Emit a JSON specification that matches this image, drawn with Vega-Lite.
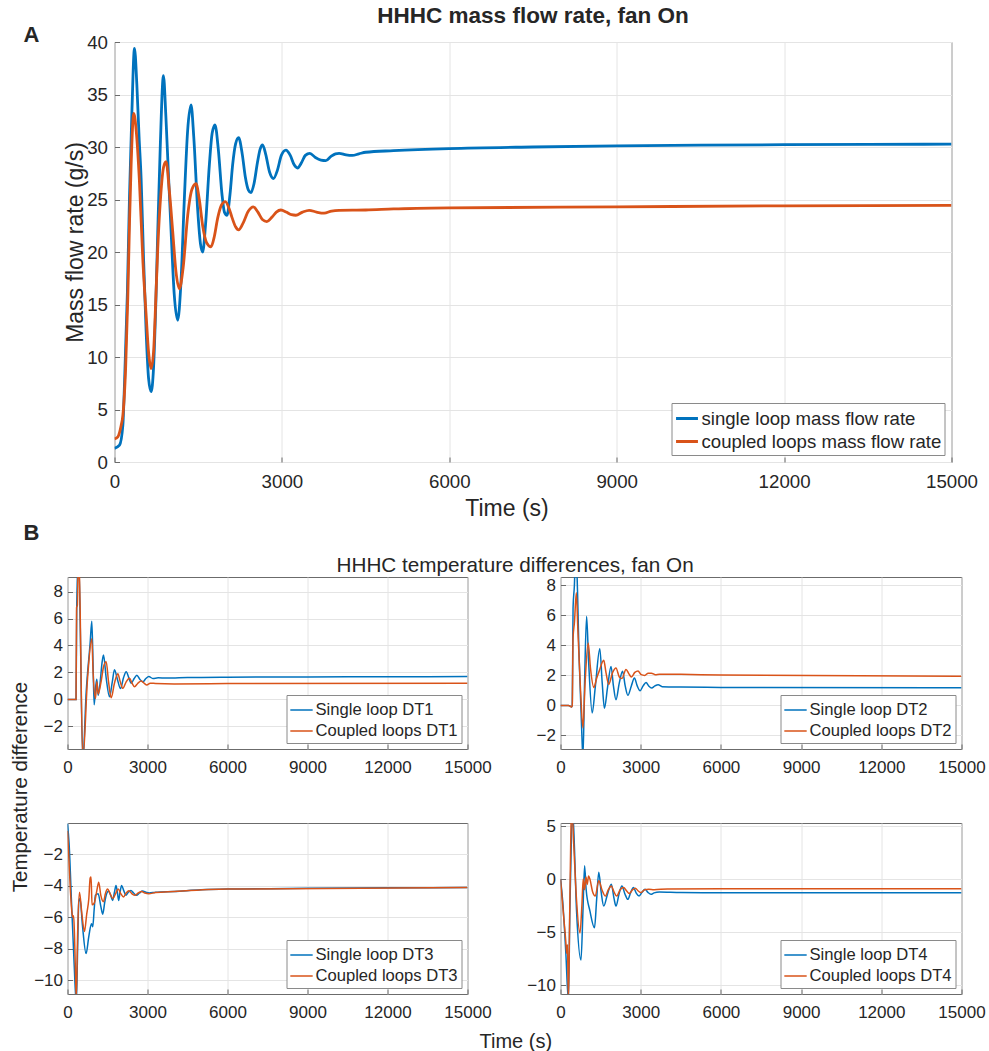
{
  "$schema": "https://vega.github.io/schema/vega-lite/v6.json",
  "background": "white",
  "padding": {"left": 9.5, "top": 4, "right": 10, "bottom": 5},
  "config": {
    "font": "Liberation Sans",
    "view": {"stroke": "#6b6b6b", "strokeWidth": 1},
    "axis": {"grid": true, "gridColor": "#e4e4e4", "gridWidth": 1, "domain": false, "ticks": true, "tickColor": "#6b6b6b", "tickSize": -5, "labelColor": "#262626", "titleColor": "#262626", "titleFontWeight": "normal", "labelFlush": false, "labelOverlap": false, "labelBound": false},
    "legend": {"orient": "bottom-right", "symbolType": "stroke", "strokeColor": "#8a8a8a", "fillColor": "white", "padding": 3, "rowPadding": 0, "labelOffset": 2, "labelColor": "#262626", "labelLimit": 600},
    "title": {"color": "#262626"}
  },
  "datasets": {
    "A": [
      {"s":"S","t":0,"v":1.3},{"s":"S","t":90,"v":1.6},{"s":"S","t":150,"v":3.5},{"s":"S","t":180,"v":7.6},{"s":"S","t":230,"v":16},{"s":"S","t":268,"v":25.1},{"s":"S","t":310,"v":33},{"s":"S","t":358,"v":39.4},{"s":"S","t":400,"v":36},{"s":"S","t":440,"v":31},{"s":"S","t":477,"v":27},{"s":"S","t":520,"v":19.5},{"s":"S","t":567,"v":12.4},{"s":"S","t":610,"v":8},{"s":"S","t":656,"v":6.7},{"s":"S","t":700,"v":9},{"s":"S","t":740,"v":15},{"s":"S","t":775,"v":21.9},{"s":"S","t":820,"v":30},{"s":"S","t":877,"v":36.8},{"s":"S","t":920,"v":33},{"s":"S","t":970,"v":27},{"s":"S","t":1014,"v":22},{"s":"S","t":1070,"v":16},{"s":"S","t":1133,"v":13.5},{"s":"S","t":1190,"v":17},{"s":"S","t":1252,"v":25.1},{"s":"S","t":1310,"v":31.5},{"s":"S","t":1372,"v":34.0},{"s":"S","t":1420,"v":31},{"s":"S","t":1491,"v":24},{"s":"S","t":1540,"v":20.8},{"s":"S","t":1580,"v":20.0},{"s":"S","t":1630,"v":22.5},{"s":"S","t":1700,"v":28.3},{"s":"S","t":1750,"v":31.3},{"s":"S","t":1801,"v":32.1},{"s":"S","t":1860,"v":29.8},{"s":"S","t":1926,"v":25.5},{"s":"S","t":1970,"v":23.8},{"s":"S","t":2016,"v":23.5},{"s":"S","t":2070,"v":25.5},{"s":"S","t":2117,"v":28.3},{"s":"S","t":2170,"v":30.3},{"s":"S","t":2224,"v":30.9},{"s":"S","t":2290,"v":29.3},{"s":"S","t":2343,"v":27.2},{"s":"S","t":2400,"v":25.9},{"s":"S","t":2445,"v":25.65},{"s":"S","t":2500,"v":26.5},{"s":"S","t":2564,"v":28.6},{"s":"S","t":2610,"v":29.8},{"s":"S","t":2654,"v":30.2},{"s":"S","t":2710,"v":29.3},{"s":"S","t":2780,"v":27.6},{"s":"S","t":2850,"v":27.0},{"s":"S","t":2920,"v":27.8},{"s":"S","t":2990,"v":29.2},{"s":"S","t":3071,"v":29.7},{"s":"S","t":3150,"v":29.2},{"s":"S","t":3220,"v":28.3},{"s":"S","t":3280,"v":28.0},{"s":"S","t":3350,"v":28.5},{"s":"S","t":3420,"v":29.2},{"s":"S","t":3501,"v":29.4},{"s":"S","t":3600,"v":29.0},{"s":"S","t":3700,"v":28.75},{"s":"S","t":3787,"v":28.7},{"s":"S","t":3880,"v":29.1},{"s":"S","t":3960,"v":29.35},{"s":"S","t":4025,"v":29.4},{"s":"S","t":4150,"v":29.25},{"s":"S","t":4263,"v":29.2},{"s":"S","t":4380,"v":29.35},{"s":"S","t":4502,"v":29.5},{"s":"S","t":5000,"v":29.65},{"s":"S","t":6000,"v":29.85},{"s":"S","t":7500,"v":30.0},{"s":"S","t":9000,"v":30.1},{"s":"S","t":10500,"v":30.17},{"s":"S","t":12000,"v":30.22},{"s":"S","t":13500,"v":30.25},{"s":"S","t":15000,"v":30.27},
      {"s":"C","t":0,"v":2.2},{"s":"C","t":60,"v":2.4},{"s":"C","t":120,"v":3.5},{"s":"C","t":149,"v":4.4},{"s":"C","t":200,"v":9},{"s":"C","t":238,"v":15.6},{"s":"C","t":270,"v":23},{"s":"C","t":298,"v":28.3},{"s":"C","t":346,"v":33.2},{"s":"C","t":390,"v":31.5},{"s":"C","t":447,"v":26.7},{"s":"C","t":510,"v":19},{"s":"C","t":567,"v":14.0},{"s":"C","t":610,"v":10.5},{"s":"C","t":656,"v":8.9},{"s":"C","t":700,"v":10.5},{"s":"C","t":740,"v":15.5},{"s":"C","t":775,"v":20.3},{"s":"C","t":830,"v":25.5},{"s":"C","t":880,"v":28.1},{"s":"C","t":924,"v":28.6},{"s":"C","t":980,"v":26},{"s":"C","t":1044,"v":21.9},{"s":"C","t":1100,"v":18.2},{"s":"C","t":1163,"v":16.5},{"s":"C","t":1230,"v":18.5},{"s":"C","t":1312,"v":23.5},{"s":"C","t":1390,"v":26.0},{"s":"C","t":1461,"v":26.5},{"s":"C","t":1520,"v":25},{"s":"C","t":1580,"v":22.5},{"s":"C","t":1650,"v":20.9},{"s":"C","t":1729,"v":20.5},{"s":"C","t":1790,"v":21.5},{"s":"C","t":1848,"v":23.2},{"s":"C","t":1920,"v":24.5},{"s":"C","t":1986,"v":24.8},{"s":"C","t":2050,"v":24.2},{"s":"C","t":2105,"v":23.3},{"s":"C","t":2170,"v":22.4},{"s":"C","t":2224,"v":22.1},{"s":"C","t":2300,"v":22.7},{"s":"C","t":2400,"v":23.9},{"s":"C","t":2487,"v":24.3},{"s":"C","t":2570,"v":23.8},{"s":"C","t":2650,"v":23.1},{"s":"C","t":2731,"v":22.9},{"s":"C","t":2820,"v":23.3},{"s":"C","t":2900,"v":23.8},{"s":"C","t":2982,"v":24.0},{"s":"C","t":3080,"v":23.8},{"s":"C","t":3170,"v":23.55},{"s":"C","t":3250,"v":23.5},{"s":"C","t":3370,"v":23.8},{"s":"C","t":3489,"v":23.97},{"s":"C","t":3620,"v":23.8},{"s":"C","t":3757,"v":23.7},{"s":"C","t":3890,"v":23.9},{"s":"C","t":4025,"v":23.97},{"s":"C","t":4502,"v":24.0},{"s":"C","t":5000,"v":24.1},{"s":"C","t":6000,"v":24.2},{"s":"C","t":9000,"v":24.3},{"s":"C","t":12000,"v":24.4},{"s":"C","t":15000,"v":24.45}
    ],
    "B1": [
      {"s":"S","t":0,"v":0},{"s":"S","t":320,"v":0},{"s":"S","t":345,"v":6.5},{"s":"S","t":380,"v":9.5},{"s":"S","t":400,"v":10},{"s":"S","t":440,"v":9},{"s":"S","t":575,"v":-4.5},{"s":"S","t":700,"v":0.5},{"s":"S","t":850,"v":4.2},{"s":"S","t":912,"v":5.8},{"s":"S","t":960,"v":2.5},{"s":"S","t":1000,"v":-0.4},{"s":"S","t":1060,"v":1.0},{"s":"S","t":1100,"v":1.5},{"s":"S","t":1150,"v":0.3},{"s":"S","t":1220,"v":1.2},{"s":"S","t":1300,"v":2.8},{"s":"S","t":1350,"v":3.3},{"s":"S","t":1450,"v":1.6},{"s":"S","t":1575,"v":0.2},{"s":"S","t":1680,"v":1.3},{"s":"S","t":1762,"v":2.2},{"s":"S","t":1870,"v":1.5},{"s":"S","t":1990,"v":0.8},{"s":"S","t":2100,"v":1.6},{"s":"S","t":2200,"v":2.06},{"s":"S","t":2300,"v":1.6},{"s":"S","t":2390,"v":1.2},{"s":"S","t":2500,"v":1.55},{"s":"S","t":2600,"v":1.8},{"s":"S","t":2710,"v":1.5},{"s":"S","t":2825,"v":1.3},{"s":"S","t":2940,"v":1.55},{"s":"S","t":3050,"v":1.7},{"s":"S","t":3200,"v":1.55},{"s":"S","t":3400,"v":1.6},{"s":"S","t":3700,"v":1.58},{"s":"S","t":4500,"v":1.62},{"s":"S","t":6000,"v":1.65},{"s":"S","t":9000,"v":1.67},{"s":"S","t":12000,"v":1.68},{"s":"S","t":15000,"v":1.69},
      {"s":"C","t":0,"v":0},{"s":"C","t":320,"v":0},{"s":"C","t":340,"v":6.8},{"s":"C","t":370,"v":7},{"s":"C","t":400,"v":10},{"s":"C","t":440,"v":9.5},{"s":"C","t":575,"v":-4.5},{"s":"C","t":750,"v":1.5},{"s":"C","t":912,"v":4.5},{"s":"C","t":960,"v":2.0},{"s":"C","t":1050,"v":0.07},{"s":"C","t":1100,"v":1.3},{"s":"C","t":1150,"v":0.4},{"s":"C","t":1250,"v":1.2},{"s":"C","t":1350,"v":2.4},{"s":"C","t":1450,"v":2.8},{"s":"C","t":1540,"v":1.3},{"s":"C","t":1637,"v":0.12},{"s":"C","t":1760,"v":1.2},{"s":"C","t":1887,"v":1.9},{"s":"C","t":1980,"v":1.3},{"s":"C","t":2075,"v":0.82},{"s":"C","t":2200,"v":1.3},{"s":"C","t":2325,"v":1.56},{"s":"C","t":2420,"v":1.2},{"s":"C","t":2512,"v":0.94},{"s":"C","t":2640,"v":1.2},{"s":"C","t":2762,"v":1.36},{"s":"C","t":2870,"v":1.2},{"s":"C","t":2975,"v":1.07},{"s":"C","t":3100,"v":1.2},{"s":"C","t":3300,"v":1.18},{"s":"C","t":4000,"v":1.15},{"s":"C","t":6000,"v":1.17},{"s":"C","t":15000,"v":1.19}
    ],
    "B2": [
      {"s":"S","t":0,"v":0},{"s":"S","t":300,"v":0},{"s":"S","t":420,"v":-0.1},{"s":"S","t":440,"v":0},{"s":"S","t":470,"v":6.5},{"s":"S","t":520,"v":8},{"s":"S","t":560,"v":10},{"s":"S","t":600,"v":9.5},{"s":"S","t":700,"v":3},{"s":"S","t":800,"v":-2},{"s":"S","t":840,"v":-3.5},{"s":"S","t":900,"v":1.5},{"s":"S","t":976,"v":5.93},{"s":"S","t":1050,"v":3},{"s":"S","t":1186,"v":-0.5},{"s":"S","t":1300,"v":1.2},{"s":"S","t":1470,"v":3.78},{"s":"S","t":1560,"v":1.5},{"s":"S","t":1643,"v":-0.18},{"s":"S","t":1760,"v":1.2},{"s":"S","t":1890,"v":2.6},{"s":"S","t":1980,"v":1.3},{"s":"S","t":2075,"v":0.38},{"s":"S","t":2200,"v":1.5},{"s":"S","t":2322,"v":2.27},{"s":"S","t":2420,"v":1.3},{"s":"S","t":2520,"v":0.67},{"s":"S","t":2650,"v":1.3},{"s":"S","t":2766,"v":1.82},{"s":"S","t":2870,"v":1.3},{"s":"S","t":2977,"v":0.98},{"s":"S","t":3090,"v":1.3},{"s":"S","t":3200,"v":1.53},{"s":"S","t":3300,"v":1.3},{"s":"S","t":3410,"v":1.16},{"s":"S","t":3530,"v":1.3},{"s":"S","t":3655,"v":1.38},{"s":"S","t":3800,"v":1.25},{"s":"S","t":4500,"v":1.22},{"s":"S","t":6000,"v":1.2},{"s":"S","t":15000,"v":1.17},
      {"s":"C","t":0,"v":0},{"s":"C","t":300,"v":0},{"s":"C","t":420,"v":-0.1},{"s":"C","t":440,"v":0},{"s":"C","t":470,"v":4.5},{"s":"C","t":520,"v":5.5},{"s":"C","t":593,"v":7.5},{"s":"C","t":650,"v":5},{"s":"C","t":750,"v":1},{"s":"C","t":840,"v":-1.5},{"s":"C","t":920,"v":1.5},{"s":"C","t":1037,"v":4.16},{"s":"C","t":1120,"v":2.5},{"s":"C","t":1247,"v":1.2},{"s":"C","t":1350,"v":1.8},{"s":"C","t":1450,"v":2.3},{"s":"C","t":1618,"v":3.0},{"s":"C","t":1700,"v":2.2},{"s":"C","t":1803,"v":1.4},{"s":"C","t":1950,"v":2.2},{"s":"C","t":2075,"v":2.5},{"s":"C","t":2200,"v":1.9},{"s":"C","t":2300,"v":1.8},{"s":"C","t":2450,"v":2.4},{"s":"C","t":2560,"v":2.1},{"s":"C","t":2650,"v":1.9},{"s":"C","t":2780,"v":2.2},{"s":"C","t":2900,"v":2.3},{"s":"C","t":3020,"v":2.05},{"s":"C","t":3150,"v":2.0},{"s":"C","t":3280,"v":2.15},{"s":"C","t":3400,"v":2.15},{"s":"C","t":3550,"v":2.05},{"s":"C","t":3700,"v":2.08},{"s":"C","t":4500,"v":2.07},{"s":"C","t":6000,"v":2.03},{"s":"C","t":15000,"v":1.95}
    ],
    "B3": [
      {"s":"S","t":0,"v":-0.05},{"s":"S","t":60,"v":-1.3},{"s":"S","t":150,"v":-5},{"s":"S","t":250,"v":-9},{"s":"S","t":330,"v":-11.5},{"s":"S","t":380,"v":-8},{"s":"S","t":423,"v":-5.0},{"s":"S","t":470,"v":-4.8},{"s":"S","t":560,"v":-6.5},{"s":"S","t":697,"v":-8.3},{"s":"S","t":800,"v":-7.2},{"s":"S","t":900,"v":-6.4},{"s":"S","t":946,"v":-6.6},{"s":"S","t":1000,"v":-5.5},{"s":"S","t":1046,"v":-4.6},{"s":"S","t":1150,"v":-4.5},{"s":"S","t":1250,"v":-5.3},{"s":"S","t":1320,"v":-5.8},{"s":"S","t":1400,"v":-5.0},{"s":"S","t":1450,"v":-4.6},{"s":"S","t":1544,"v":-4.33},{"s":"S","t":1620,"v":-4.6},{"s":"S","t":1693,"v":-4.92},{"s":"S","t":1760,"v":-4.4},{"s":"S","t":1818,"v":-3.97},{"s":"S","t":1870,"v":-4.4},{"s":"S","t":1917,"v":-4.92},{"s":"S","t":1970,"v":-4.4},{"s":"S","t":2030,"v":-3.97},{"s":"S","t":2110,"v":-4.3},{"s":"S","t":2190,"v":-4.6},{"s":"S","t":2280,"v":-4.4},{"s":"S","t":2378,"v":-4.29},{"s":"S","t":2480,"v":-4.45},{"s":"S","t":2590,"v":-4.6},{"s":"S","t":2700,"v":-4.45},{"s":"S","t":2814,"v":-4.33},{"s":"S","t":2940,"v":-4.4},{"s":"S","t":3063,"v":-4.45},{"s":"S","t":3300,"v":-4.4},{"s":"S","t":4000,"v":-4.35},{"s":"S","t":5000,"v":-4.25},{"s":"S","t":6000,"v":-4.2},{"s":"S","t":9000,"v":-4.15},{"s":"S","t":12000,"v":-4.12},{"s":"S","t":15000,"v":-4.1},
      {"s":"C","t":0,"v":-0.5},{"s":"C","t":40,"v":-1.8},{"s":"C","t":100,"v":-4},{"s":"C","t":174,"v":-5.8},{"s":"C","t":200,"v":-6},{"s":"C","t":230,"v":-5.9},{"s":"C","t":260,"v":-7},{"s":"C","t":300,"v":-9.6},{"s":"C","t":330,"v":-11.2},{"s":"C","t":380,"v":-7},{"s":"C","t":448,"v":-4.4},{"s":"C","t":540,"v":-5.8},{"s":"C","t":635,"v":-6.9},{"s":"C","t":720,"v":-5.8},{"s":"C","t":800,"v":-4.8},{"s":"C","t":850,"v":-3.5},{"s":"C","t":884,"v":-3.44},{"s":"C","t":920,"v":-5.2},{"s":"C","t":1000,"v":-5.1},{"s":"C","t":1100,"v":-4.3},{"s":"C","t":1170,"v":-3.76},{"s":"C","t":1250,"v":-4.6},{"s":"C","t":1350,"v":-5.0},{"s":"C","t":1420,"v":-4.5},{"s":"C","t":1500,"v":-4.2},{"s":"C","t":1600,"v":-4.5},{"s":"C","t":1700,"v":-4.8},{"s":"C","t":1800,"v":-4.5},{"s":"C","t":1900,"v":-4.2},{"s":"C","t":2000,"v":-4.5},{"s":"C","t":2100,"v":-4.7},{"s":"C","t":2200,"v":-4.45},{"s":"C","t":2300,"v":-4.3},{"s":"C","t":2420,"v":-4.5},{"s":"C","t":2530,"v":-4.6},{"s":"C","t":2650,"v":-4.45},{"s":"C","t":2780,"v":-4.35},{"s":"C","t":2900,"v":-4.45},{"s":"C","t":3050,"v":-4.5},{"s":"C","t":3300,"v":-4.42},{"s":"C","t":4000,"v":-4.35},{"s":"C","t":6000,"v":-4.2},{"s":"C","t":15000,"v":-4.1}
    ],
    "B4": [
      {"s":"S","t":0,"v":0},{"s":"S","t":80,"v":-2},{"s":"S","t":200,"v":-7},{"s":"S","t":296,"v":-11.5},{"s":"S","t":350,"v":-3},{"s":"S","t":400,"v":3},{"s":"S","t":445,"v":6},{"s":"S","t":480,"v":5.4},{"s":"S","t":600,"v":-3},{"s":"S","t":766,"v":-7.64},{"s":"S","t":840,"v":-3},{"s":"S","t":901,"v":1.27},{"s":"S","t":960,"v":-1.0},{"s":"S","t":1100,"v":-3},{"s":"S","t":1272,"v":-4.6},{"s":"S","t":1350,"v":-2},{"s":"S","t":1432,"v":0.64},{"s":"S","t":1520,"v":-1.2},{"s":"S","t":1618,"v":-2.55},{"s":"S","t":1760,"v":-1.4},{"s":"S","t":1900,"v":-0.48},{"s":"S","t":2000,"v":-1.8},{"s":"S","t":2075,"v":-2.55},{"s":"S","t":2190,"v":-1.4},{"s":"S","t":2297,"v":-0.64},{"s":"S","t":2410,"v":-1.4},{"s":"S","t":2520,"v":-1.91},{"s":"S","t":2620,"v":-1.3},{"s":"S","t":2729,"v":-0.8},{"s":"S","t":2830,"v":-1.3},{"s":"S","t":2940,"v":-1.6},{"s":"S","t":3050,"v":-1.25},{"s":"S","t":3162,"v":-0.96},{"s":"S","t":3270,"v":-1.25},{"s":"S","t":3384,"v":-1.43},{"s":"S","t":3500,"v":-1.3},{"s":"S","t":3700,"v":-1.22},{"s":"S","t":4500,"v":-1.27},{"s":"S","t":6000,"v":-1.28},{"s":"S","t":15000,"v":-1.28},
      {"s":"C","t":0,"v":0},{"s":"C","t":100,"v":-3},{"s":"C","t":198,"v":-5.9},{"s":"C","t":230,"v":-7},{"s":"C","t":260,"v":-6.2},{"s":"C","t":296,"v":-11.5},{"s":"C","t":340,"v":-4},{"s":"C","t":380,"v":3},{"s":"C","t":400,"v":5.5},{"s":"C","t":440,"v":6},{"s":"C","t":500,"v":3},{"s":"C","t":600,"v":-2},{"s":"C","t":729,"v":-5.1},{"s":"C","t":800,"v":-2.5},{"s":"C","t":850,"v":0},{"s":"C","t":900,"v":-1.0},{"s":"C","t":950,"v":0.2},{"s":"C","t":1000,"v":-0.5},{"s":"C","t":1050,"v":0.3},{"s":"C","t":1100,"v":0.0},{"s":"C","t":1200,"v":-1.2},{"s":"C","t":1300,"v":-1.6},{"s":"C","t":1432,"v":-0.16},{"s":"C","t":1550,"v":-1.0},{"s":"C","t":1680,"v":-1.6},{"s":"C","t":1790,"v":-1.0},{"s":"C","t":1900,"v":-0.64},{"s":"C","t":2000,"v":-1.2},{"s":"C","t":2100,"v":-1.6},{"s":"C","t":2230,"v":-1.0},{"s":"C","t":2360,"v":-0.8},{"s":"C","t":2470,"v":-1.1},{"s":"C","t":2570,"v":-1.37},{"s":"C","t":2700,"v":-1.0},{"s":"C","t":2800,"v":-0.86},{"s":"C","t":2900,"v":-1.1},{"s":"C","t":3013,"v":-1.27},{"s":"C","t":3150,"v":-1.0},{"s":"C","t":3300,"v":-0.95},{"s":"C","t":3500,"v":-1.0},{"s":"C","t":4000,"v":-0.93},{"s":"C","t":6000,"v":-0.92},{"s":"C","t":15000,"v":-0.92}
    ]
  },
  "bounds": "flush",
  "spacing": 535,
  "resolve": {"scale": {"color": "independent"}, "legend": {"color": "independent"}},
  "vconcat": [
    {
      "bounds": "flush",
      "spacing": 0,
      "resolve": {"scale": {"color": "independent"}, "legend": {"color": "independent"}},
      "hconcat": [
        {
          "width": 47, "height": 420,
          "data": {"values": []},
          "view": {"stroke": null},
          "title": {"text": "A", "anchor": "start", "frame": "group", "dx": -44, "fontSize": 22, "fontWeight": "bold", "baseline": "alphabetic", "offset": -22},
          "mark": "point",
          "encoding": {}
        },
        {
          "width": 837, "height": 420,
          "data": {"name": "A"},
          "title": {"text": "HHHC mass flow rate, fan On", "fontSize": 22.5, "fontWeight": "bold", "anchor": "middle", "frame": "group", "baseline": "alphabetic", "offset": -12.5},
          "mark": {"type": "line", "strokeWidth": 2.8, "clip": true, "interpolate": "monotone"},
          "encoding": {
            "x": {"field": "t", "type": "quantitative", "scale": {"domain": [0, 15000], "nice": false, "zero": false},
                  "axis": {"values": [0, 3000, 6000, 9000, 12000, 15000], "format": "d", "title": "Time (s)", "labelFontSize": 18.7, "titleFontSize": 23, "labelPadding": 15.6, "titleBaseline": "alphabetic", "titleX": 392, "titleY": 53}},
            "y": {"field": "v", "type": "quantitative", "scale": {"domain": [0, 40], "nice": false},
                  "axis": {"values": [0, 5, 10, 15, 20, 25, 30, 35, 40], "title": "Mass flow rate (g/s)", "labelFontSize": 18.7, "titleFontSize": 23, "labelPadding": 12, "titleBaseline": "alphabetic", "titleX": -32, "titleY": 200}},
            "color": {"field": "s", "type": "nominal", "scale": {"domain": ["S", "C"], "range": ["#0072BD", "#D95319"]},
                      "legend": {"title": null, "labelExpr": "datum.label == 'S' ? 'single loop mass flow rate' : 'coupled loops mass flow rate'", "labelFontSize": 18.6, "symbolStrokeWidth": 3, "symbolSize": 480, "offset": 7}}
          }
        }
      ]
    },
    {
      "bounds": "flush",
      "columns": 2,
      "spacing": {"row": 74, "column": 93},
      "resolve": {"scale": {"color": "independent"}, "legend": {"color": "independent"}},
      "concat": [
        {
          "width": 400, "height": 172,
          "data": {"name": "B1"},
          "title": {"text": "B", "anchor": "start", "frame": "group", "dx": -44, "fontSize": 22, "fontWeight": "bold", "baseline": "alphabetic", "offset": 15},
          "mark": {"type": "line", "strokeWidth": 1.5, "clip": true, "interpolate": "monotone"},
          "encoding": {
            "x": {"field": "t", "type": "quantitative", "scale": {"domain": [0, 15000], "nice": false},
                  "axis": {"values": [0, 3000, 6000, 9000, 12000, 15000], "format": "d", "title": null, "labelFontSize": 17, "labelPadding": 15.5}},
            "y": {"field": "v", "type": "quantitative", "scale": {"domain": [-3.68, 9.08], "nice": false, "zero": false},
                  "axis": {"values": [-2, 0, 2, 4, 6, 8], "title": "Temperature difference", "titleFontSize": 20.5, "titleBaseline": "alphabetic", "titleX": -41, "titleY": 209.5, "labelFontSize": 17, "labelPadding": 10}},
            "color": {"field": "s", "type": "nominal", "scale": {"domain": ["S", "C"], "range": ["#0072BD", "#D95319"]},
                      "legend": {"title": null, "labelExpr": "datum.label == 'S' ? 'Single loop DT1' : 'Coupled loops DT1'", "labelFontSize": 16.6, "symbolStrokeWidth": 1.5, "symbolSize": 500, "offset": 6}}
          }
        },
        {
          "width": 401, "height": 172,
          "data": {"name": "B2"},
          "title": {"text": "HHHC temperature differences, fan On", "anchor": "start", "frame": "group", "dx": -224, "fontSize": 20.7, "fontWeight": "normal", "baseline": "alphabetic", "offset": -16.2},
          "mark": {"type": "line", "strokeWidth": 1.5, "clip": true, "interpolate": "monotone"},
          "encoding": {
            "x": {"field": "t", "type": "quantitative", "scale": {"domain": [0, 15000], "nice": false},
                  "axis": {"values": [0, 3000, 6000, 9000, 12000, 15000], "format": "d", "title": null, "labelFontSize": 17, "labelPadding": 15.5}},
            "y": {"field": "v", "type": "quantitative", "scale": {"domain": [-2.9, 8.55], "nice": false, "zero": false},
                  "axis": {"values": [-2, 0, 2, 4, 6, 8], "title": null, "labelFontSize": 17, "labelPadding": 10}},
            "color": {"field": "s", "type": "nominal", "scale": {"domain": ["S", "C"], "range": ["#0072BD", "#D95319"]},
                      "legend": {"title": null, "labelExpr": "datum.label == 'S' ? 'Single loop DT2' : 'Coupled loops DT2'", "labelFontSize": 16.6, "symbolStrokeWidth": 1.5, "symbolSize": 500, "offset": 6}}
          }
        },
        {
          "width": 400, "height": 171,
          "data": {"name": "B3"},
          "mark": {"type": "line", "strokeWidth": 1.5, "clip": true, "interpolate": "monotone"},
          "encoding": {
            "x": {"field": "t", "type": "quantitative", "scale": {"domain": [0, 15000], "nice": false},
                  "axis": {"values": [0, 3000, 6000, 9000, 12000, 15000], "format": "d", "title": "Time (s)", "titleFontSize": 20, "titleBaseline": "alphabetic", "titleX": 447.8, "titleY": 53, "labelFontSize": 17, "labelPadding": 15.5}},
            "y": {"field": "v", "type": "quantitative", "scale": {"domain": [-10.87, 0], "nice": false, "zero": false},
                  "axis": {"values": [-10, -8, -6, -4, -2], "title": null, "labelFontSize": 17, "labelPadding": 10}},
            "color": {"field": "s", "type": "nominal", "scale": {"domain": ["S", "C"], "range": ["#0072BD", "#D95319"]},
                      "legend": {"title": null, "labelExpr": "datum.label == 'S' ? 'Single loop DT3' : 'Coupled loops DT3'", "labelFontSize": 16.6, "symbolStrokeWidth": 1.5, "symbolSize": 500, "offset": 6}}
          }
        },
        {
          "width": 401, "height": 171,
          "data": {"name": "B4"},
          "mark": {"type": "line", "strokeWidth": 1.5, "clip": true, "interpolate": "monotone"},
          "encoding": {
            "x": {"field": "t", "type": "quantitative", "scale": {"domain": [0, 15000], "nice": false},
                  "axis": {"values": [0, 3000, 6000, 9000, 12000, 15000], "format": "d", "title": null, "labelFontSize": 17, "labelPadding": 15.5}},
            "y": {"field": "v", "type": "quantitative", "scale": {"domain": [-10.85, 5.3], "nice": false, "zero": false},
                  "axis": {"values": [-10, -5, 0, 5], "title": null, "labelFontSize": 17, "labelPadding": 10}},
            "color": {"field": "s", "type": "nominal", "scale": {"domain": ["S", "C"], "range": ["#0072BD", "#D95319"]},
                      "legend": {"title": null, "labelExpr": "datum.label == 'S' ? 'Single loop DT4' : 'Coupled loops DT4'", "labelFontSize": 16.6, "symbolStrokeWidth": 1.5, "symbolSize": 500, "offset": 6}}
          }
        }
      ]
    }
  ]
}
